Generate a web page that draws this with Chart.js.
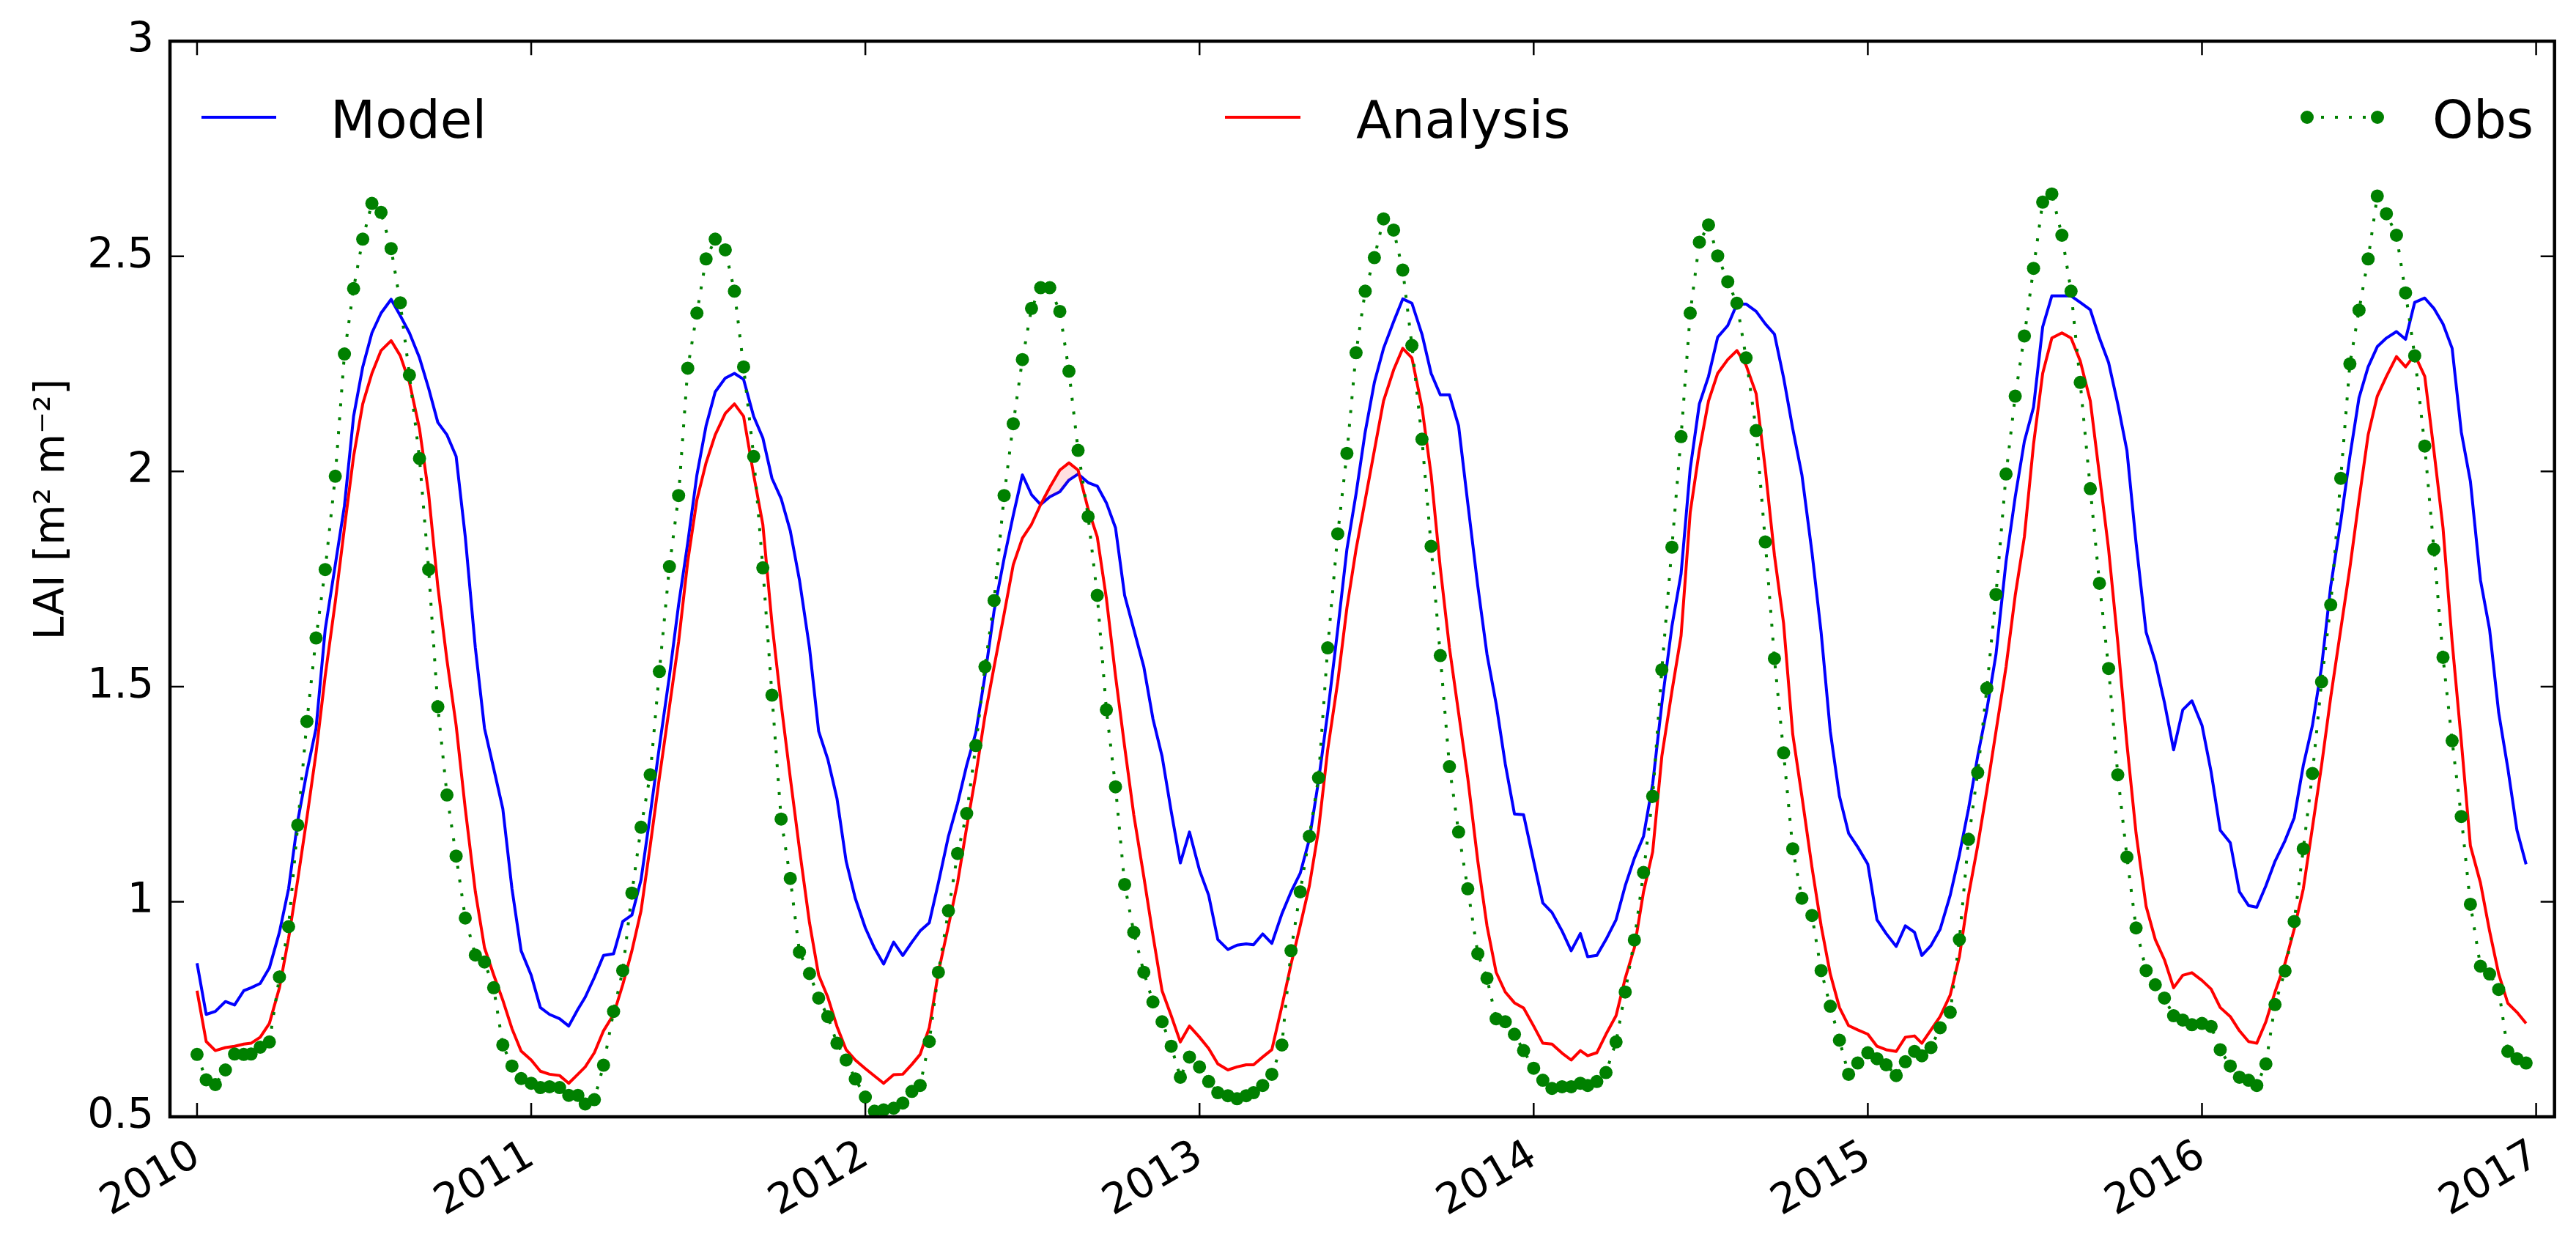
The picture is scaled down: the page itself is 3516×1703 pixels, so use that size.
<!DOCTYPE html>
<html>
<head>
<meta charset="utf-8">
<title>LAI - Model / Analysis / Obs</title>
<script src="https://cdn.jsdelivr.net/npm/chart.js"></script>
<style>
    html, body { margin: 0; padding: 0; background: #ffffff; }
    #laiChart { display: block; }
</style>
</head>
<body>
<canvas id="laiChart" width="3516" height="1703"></canvas>
<script>
/* ============================================
   DATA (10-daily values, one row per year)
   ============================================ */
const years = [2010, 2011, 2012, 2013, 2014, 2015, 2016];
const dekadDays = [1, 11, 21];
const yearTicks = [2010, 2011, 2012, 2013, 2014, 2015, 2016, 2017];
const laiTicks = [0.5, 1, 1.5, 2, 2.5, 3];

const modelLAI = [
    0.857, 0.738, 0.745, 0.768, 0.760, 0.793, 0.800, 0.810, 0.846, 0.929, 1.030, 1.188, 1.302, 1.403, 1.633, 1.783, 1.920, 2.128, 2.243, 2.322, 2.368, 2.400, 2.362, 2.322, 2.264, 2.193, 2.114, 2.085, 2.035, 1.848, 1.590, 1.403, 1.310, 1.216, 1.030, 0.886,
    0.829, 0.754, 0.738, 0.728, 0.711, 0.750, 0.778, 0.824, 0.875, 0.879, 0.954, 0.969, 1.051, 1.202, 1.360, 1.525, 1.690, 1.834, 1.992, 2.106, 2.185, 2.217, 2.228, 2.214, 2.128, 2.078, 1.984, 1.937, 1.862, 1.748, 1.590, 1.396, 1.331, 1.240, 1.094, 1.008,
    0.939, 0.892, 0.855, 0.906, 0.875, 0.906, 0.932, 0.951, 1.044, 1.152, 1.228, 1.317, 1.393, 1.525, 1.676, 1.798, 1.898, 1.992, 1.946, 1.923, 1.941, 1.953, 1.980, 1.994, 1.974, 1.966, 1.927, 1.869, 1.712, 1.633, 1.546, 1.425, 1.338, 1.210, 1.090, 1.162,
    1.073, 1.015, 0.912, 0.889, 0.899, 0.902, 0.900, 0.925, 0.903, 0.972, 1.023, 1.066, 1.145, 1.281, 1.439, 1.633, 1.819, 1.948, 2.092, 2.207, 2.286, 2.348, 2.401, 2.391, 2.319, 2.228, 2.178, 2.178, 2.106, 1.927, 1.733, 1.575, 1.460, 1.320, 1.204, 1.202,
    1.094, 0.997, 0.975, 0.932, 0.886, 0.926, 0.872, 0.875, 0.912, 0.958, 1.037, 1.101, 1.152, 1.274, 1.460, 1.640, 1.762, 2.006, 2.157, 2.221, 2.312, 2.339, 2.389, 2.389, 2.372, 2.343, 2.319, 2.218, 2.099, 1.992, 1.812, 1.626, 1.396, 1.245, 1.159, 1.127,
    1.087, 0.958, 0.926, 0.896, 0.944, 0.929, 0.875, 0.898, 0.936, 1.015, 1.109, 1.216, 1.338, 1.446, 1.575, 1.791, 1.941, 2.070, 2.149, 2.336, 2.408, 2.408, 2.408, 2.393, 2.376, 2.310, 2.253, 2.157, 2.049, 1.834, 1.626, 1.558, 1.463, 1.353, 1.446, 1.467,
    1.410, 1.302, 1.166, 1.137, 1.023, 0.991, 0.987, 1.037, 1.094, 1.142, 1.195, 1.317, 1.410, 1.546, 1.733, 1.884, 2.035, 2.171, 2.243, 2.290, 2.310, 2.325, 2.307, 2.393, 2.403, 2.379, 2.343, 2.286, 2.092, 1.977, 1.748, 1.633, 1.439, 1.310, 1.166, 1.087
];

const analysisLAI = [
    0.793, 0.675, 0.654, 0.661, 0.664, 0.669, 0.671, 0.685, 0.717, 0.800, 0.915, 1.051, 1.195, 1.346, 1.525, 1.697, 1.869, 2.035, 2.157, 2.228, 2.281, 2.304, 2.269, 2.207, 2.099, 1.948, 1.733, 1.561, 1.410, 1.216, 1.023, 0.893, 0.830, 0.771, 0.705, 0.653,
    0.632, 0.606, 0.599, 0.596, 0.578, 0.599, 0.616, 0.649, 0.700, 0.738, 0.807, 0.886, 0.979, 1.130, 1.288, 1.453, 1.604, 1.791, 1.934, 2.020, 2.085, 2.135, 2.157, 2.128, 1.992, 1.877, 1.647, 1.460, 1.288, 1.123, 0.951, 0.829, 0.778, 0.710, 0.656, 0.632,
    0.612, 0.595, 0.578, 0.598, 0.599, 0.622, 0.645, 0.707, 0.836, 0.944, 1.044, 1.173, 1.295, 1.432, 1.546, 1.669, 1.783, 1.845, 1.877, 1.923, 1.963, 2.003, 2.020, 2.003, 1.913, 1.848, 1.705, 1.525, 1.360, 1.202, 1.058, 0.922, 0.793, 0.735, 0.674, 0.711,
    0.685, 0.659, 0.623, 0.609, 0.616, 0.621, 0.621, 0.639, 0.656, 0.757, 0.855, 0.944, 1.037, 1.166, 1.353, 1.511, 1.683, 1.819, 1.934, 2.049, 2.164, 2.236, 2.286, 2.264, 2.149, 1.992, 1.776, 1.590, 1.439, 1.288, 1.094, 0.944, 0.836, 0.790, 0.765, 0.753,
    0.711, 0.671, 0.669, 0.648, 0.632, 0.654, 0.642, 0.649, 0.692, 0.735, 0.822, 0.893, 1.023, 1.116, 1.338, 1.489, 1.618, 1.905, 2.049, 2.164, 2.228, 2.260, 2.281, 2.247, 2.181, 2.006, 1.805, 1.647, 1.389, 1.245, 1.080, 0.944, 0.832, 0.754, 0.712, 0.702,
    0.692, 0.664, 0.656, 0.652, 0.685, 0.688, 0.671, 0.702, 0.733, 0.783, 0.872, 1.015, 1.130, 1.259, 1.396, 1.546, 1.712, 1.848, 2.063, 2.228, 2.310, 2.322, 2.310, 2.257, 2.164, 1.992, 1.819, 1.604, 1.367, 1.159, 0.989, 0.912, 0.865, 0.800, 0.829, 0.835,
    0.817, 0.797, 0.754, 0.733, 0.700, 0.675, 0.671, 0.721, 0.790, 0.857, 0.936, 1.030, 1.173, 1.317, 1.475, 1.633, 1.776, 1.934, 2.085, 2.175, 2.221, 2.267, 2.243, 2.271, 2.221, 2.049, 1.869, 1.604, 1.374, 1.130, 1.044, 0.932, 0.832, 0.764, 0.743, 0.717
];

const obsLAI = [
    0.645, 0.586, 0.575, 0.609, 0.646, 0.645, 0.646, 0.662, 0.674, 0.825, 0.942, 1.178, 1.419, 1.613, 1.772, 1.989, 2.273, 2.425, 2.540, 2.623, 2.602, 2.518, 2.392, 2.224, 2.030, 1.772, 1.453, 1.248, 1.106, 0.962, 0.876, 0.860, 0.800, 0.667, 0.618, 0.589,
    0.578, 0.568, 0.570, 0.568, 0.550, 0.550, 0.530, 0.540, 0.620, 0.745, 0.840, 1.020, 1.173, 1.295, 1.535, 1.779, 1.944, 2.240, 2.368, 2.494, 2.540, 2.515, 2.419, 2.243, 2.035, 1.776, 1.480, 1.192, 1.054, 0.883, 0.833, 0.776, 0.733, 0.671, 0.632, 0.588,
    0.546, 0.513, 0.516, 0.520, 0.532, 0.559, 0.573, 0.675, 0.836, 0.979, 1.112, 1.205, 1.363, 1.546, 1.700, 1.944, 2.111, 2.260, 2.379, 2.427, 2.427, 2.372, 2.233, 2.049, 1.895, 1.712, 1.446, 1.267, 1.040, 0.929, 0.836, 0.767, 0.721, 0.664, 0.592, 0.639,
    0.616, 0.582, 0.556, 0.549, 0.542, 0.549, 0.556, 0.573, 0.599, 0.667, 0.886, 1.023, 1.152, 1.288, 1.590, 1.855, 2.042, 2.276, 2.419, 2.497, 2.587, 2.561, 2.468, 2.293, 2.075, 1.826, 1.572, 1.314, 1.162, 1.030, 0.879, 0.822, 0.728, 0.721, 0.692, 0.654,
    0.613, 0.585, 0.566, 0.570, 0.570, 0.578, 0.573, 0.582, 0.603, 0.674, 0.790, 0.911, 1.068, 1.245, 1.539, 1.824, 2.081, 2.368, 2.533, 2.573, 2.501, 2.441, 2.391, 2.264, 2.095, 1.836, 1.565, 1.346, 1.123, 1.008, 0.968, 0.840, 0.757, 0.678, 0.599, 0.625,
    0.649, 0.635, 0.621, 0.596, 0.628, 0.652, 0.642, 0.661, 0.707, 0.743, 0.912, 1.145, 1.300, 1.496, 1.714, 1.994, 2.175, 2.315, 2.472, 2.626, 2.645, 2.549, 2.419, 2.207, 1.960, 1.740, 1.542, 1.295, 1.104, 0.939, 0.840, 0.807, 0.776, 0.735, 0.725, 0.714,
    0.717, 0.710, 0.656, 0.618, 0.592, 0.585, 0.573, 0.623, 0.761, 0.839, 0.954, 1.123, 1.298, 1.511, 1.690, 1.984, 2.250, 2.375, 2.494, 2.640, 2.599, 2.549, 2.415, 2.269, 2.059, 1.819, 1.568, 1.374, 1.198, 0.994, 0.850, 0.832, 0.796, 0.652, 0.635, 0.625
];

/* ============================================
   DATES -> decimal years (1st, 11th, 21st of each month)
   ============================================ */
function buildDekadDates() {
    const out = [];
    years.forEach(yr => {
        const start = Date.UTC(yr, 0, 1);
        const len = Date.UTC(yr + 1, 0, 1) - start;
        for (let m = 0; m < 12; m++) {
            dekadDays.forEach(day => {
                out.push(yr + (Date.UTC(yr, m, day) - start) / len);
            });
        }
    });
    return out;
}

const dates = buildDekadDates();
const toPoints = values => dates.map((x, i) => ({ x: x, y: values[i] }));

/* ============================================
   PLUGINS: matplotlib-like frame, inward ticks, y label, legend
   ============================================ */
const FONT = "'DejaVu Sans', 'Liberation Sans', sans-serif";

const frameTicks = {
    id: 'frameTicks',
    afterDatasetsDraw(chart) {
        const { ctx, chartArea: a, scales: { x, y } } = chart;
        const len = 19;
        ctx.save();
        ctx.strokeStyle = '#000000';
        ctx.lineWidth = 2.5;
        ctx.beginPath();
        yearTicks.forEach(v => {
            const px = x.getPixelForValue(v);
            ctx.moveTo(px, a.bottom); ctx.lineTo(px, a.bottom - len);
            ctx.moveTo(px, a.top); ctx.lineTo(px, a.top + len);
        });
        laiTicks.forEach(v => {
            const py = y.getPixelForValue(v);
            ctx.moveTo(a.left, py); ctx.lineTo(a.left + len, py);
            ctx.moveTo(a.right, py); ctx.lineTo(a.right - len, py);
        });
        ctx.stroke();
        ctx.lineWidth = 4.5;
        ctx.strokeRect(a.left, a.top, a.right - a.left, a.bottom - a.top);

        // y axis label (sits a bit above the axis centre, as in the original)
        ctx.translate(72, 695);
        ctx.rotate(-Math.PI / 2);
        ctx.font = '57px ' + FONT;
        ctx.fillStyle = '#000000';
        ctx.textAlign = 'center';
        ctx.textBaseline = 'middle';
        ctx.fillText('LAI [m² m⁻²]', 0, 0);
        ctx.restore();
    }
};

const spreadLegend = {
    id: 'spreadLegend',
    afterDraw(chart) {
        const ctx = chart.ctx;
        const lineY = 160;
        const textY = 188;
        ctx.save();
        ctx.font = '71px ' + FONT;
        ctx.fillStyle = '#000000';
        ctx.textAlign = 'left';
        ctx.textBaseline = 'alphabetic';

        // Model
        ctx.strokeStyle = '#0000ff';
        ctx.lineWidth = 4;
        ctx.beginPath(); ctx.moveTo(275, lineY); ctx.lineTo(377, lineY); ctx.stroke();
        ctx.fillText('Model', 451, textY);

        // Analysis
        ctx.strokeStyle = '#ff0000';
        ctx.beginPath(); ctx.moveTo(1672, lineY); ctx.lineTo(1775, lineY); ctx.stroke();
        ctx.fillText('Analysis', 1851, textY);

        // Obs
        ctx.strokeStyle = '#008000';
        ctx.setLineDash([4, 15]);
        ctx.beginPath(); ctx.moveTo(3149, lineY); ctx.lineTo(3245, lineY); ctx.stroke();
        ctx.setLineDash([]);
        ctx.fillStyle = '#008000';
        [3149, 3245].forEach(cx => {
            ctx.beginPath(); ctx.arc(cx, lineY, 9, 0, Math.PI * 2); ctx.fill();
        });
        ctx.fillStyle = '#000000';
        ctx.fillText('Obs', 3320, textY);
        ctx.restore();
    }
};

/* ============================================
   CHART
   ============================================ */
new Chart(document.getElementById('laiChart'), {
    type: 'line',
    data: {
        datasets: [
            {
                label: 'Model',
                data: toPoints(modelLAI),
                borderColor: '#0000ff',
                borderWidth: 4,
                pointRadius: 0,
                tension: 0,
                borderJoinStyle: 'round',
                order: 2
            },
            {
                label: 'Analysis',
                data: toPoints(analysisLAI),
                borderColor: '#ff0000',
                borderWidth: 4,
                pointRadius: 0,
                tension: 0,
                borderJoinStyle: 'round',
                // faint pink where the analysis rises above the model
                fill: { target: 0, above: 'rgba(255, 0, 0, 0.12)', below: 'rgba(0, 0, 0, 0)' },
                order: 1
            },
            {
                label: 'Obs',
                data: toPoints(obsLAI),
                borderColor: '#008000',
                borderWidth: 4,
                borderDash: [4, 15],
                pointRadius: 9,
                pointBorderWidth: 0,
                pointBackgroundColor: '#008000',
                pointBorderColor: '#008000',
                tension: 0,
                order: 0
            }
        ]
    },
    options: {
        responsive: false,
        animation: false,
        devicePixelRatio: 1,
        layout: { padding: { top: 45, right: 27, bottom: 0, left: 0 } },
        plugins: {
            legend: { display: false },
            tooltip: { enabled: false },
            filler: { propagate: false }
        },
        scales: {
            x: {
                type: 'linear',
                min: 2009.919,
                max: 2017.055,
                afterBuildTicks: scale => {
                    scale.ticks = yearTicks.map(v => ({ value: v }));
                },
                afterFit: scale => { scale.height = 179; },
                grid: { display: false, drawTicks: false },
                border: { display: false },
                ticks: {
                    minRotation: 30,
                    maxRotation: 30,
                    padding: 20,
                    color: '#000000',
                    font: { family: FONT, size: 57 },
                    callback: v => String(v)
                }
            },
            y: {
                min: 0.5,
                max: 3,
                afterBuildTicks: scale => {
                    scale.ticks = laiTicks.map(v => ({ value: v }));
                },
                afterFit: scale => { scale.width = 232; },
                grid: { display: false, drawTicks: false },
                border: { display: false },
                ticks: {
                    padding: 22,
                    color: '#000000',
                    font: { family: FONT, size: 57 },
                    callback: v => String(v)
                }
            }
        }
    },
    plugins: [frameTicks, spreadLegend]
});
</script>
</body>
</html>
